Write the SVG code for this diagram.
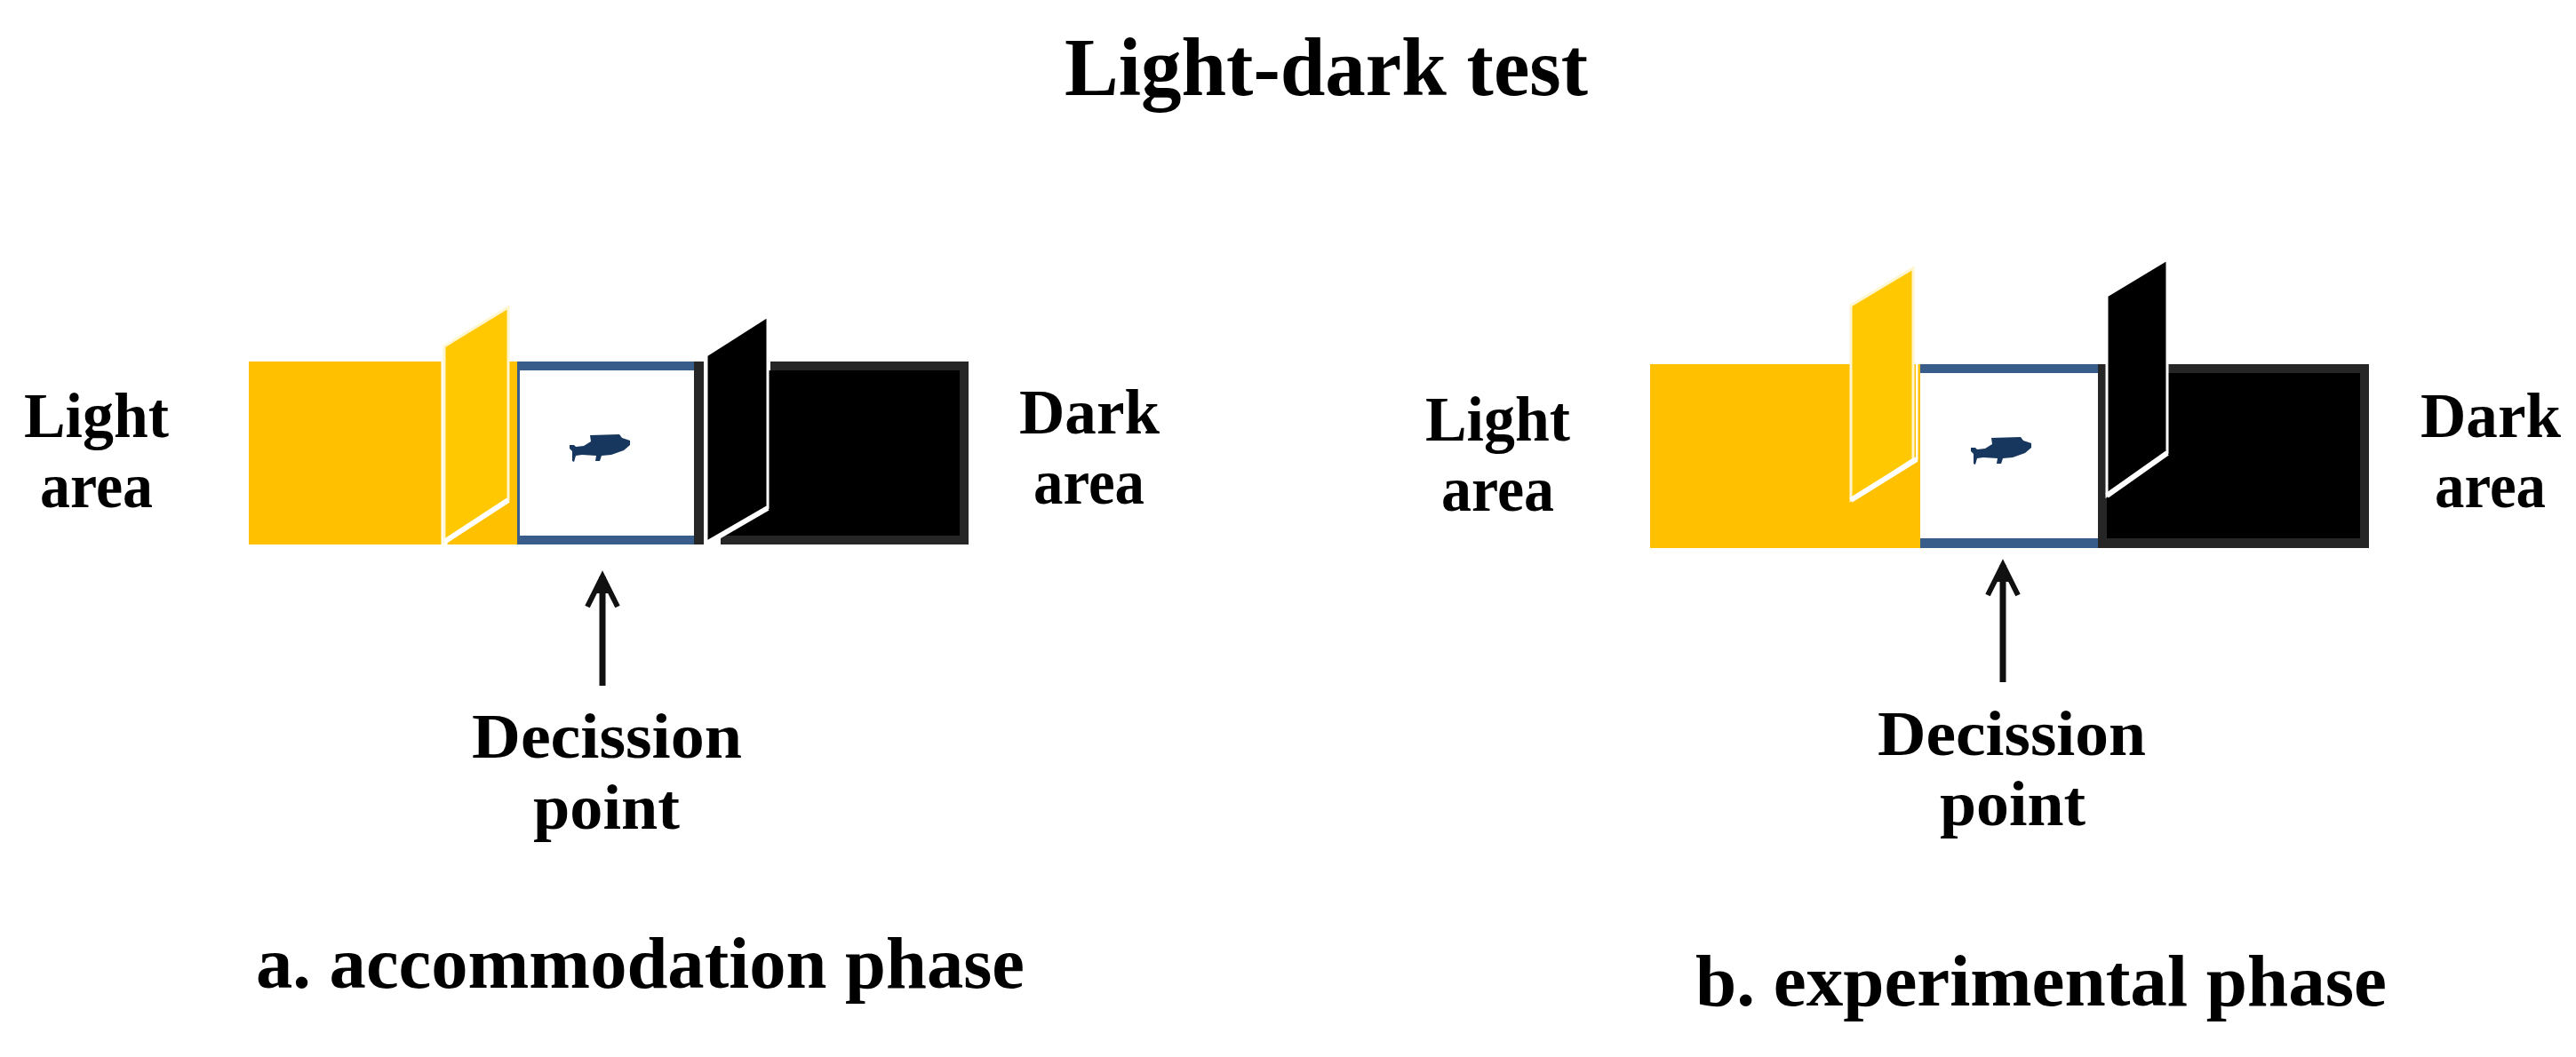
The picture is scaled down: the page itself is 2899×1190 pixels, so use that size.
<svg xmlns="http://www.w3.org/2000/svg" width="2899" height="1190" viewBox="0 0 2899 1190">
<style>
text{font-family:"Liberation Serif","Times New Roman",serif;font-weight:700;fill:#000}
.t{font-size:93px}.l{font-size:71px}.p{font-size:82px}
.y{fill:#FFC000}.b{fill:#385D8A}.d{fill:#262626}.k{fill:#000}.w{fill:#fff}
.dy{fill:#FFC800;stroke:#FFF6D0;stroke-width:3}.dk{fill:#000;stroke:#fff;stroke-width:3}
.e{stroke:#fff;stroke-width:6;fill:none}
.c{stroke:#111;stroke-width:7;fill:none}
</style>
<defs>
<marker id="head" markerUnits="userSpaceOnUse" markerWidth="50" markerHeight="50" refX="37" refY="22" orient="auto"><path d="M3 5 L37 22 L3 39" fill="none" stroke="#111" stroke-width="6"/><path d="M37 22 L18 14 V30Z" fill="#111"/></marker>
<path id="fish" fill="#17375E" d="M641 501 L646 501 L648 503 L657 502 L665 497 L664 490 L697 489 L700 493 L709 496 L709 501 L702 507 L688 512 L677 513 L675 519 L670 519 L671 513 L655 512 L648 513 L646 520 L644 519 L644 508 L641 505Z"/>
</defs>
<rect width="2899" height="1190" fill="#fff"/>
<text class="t" x="1198" y="107" textLength="589" lengthAdjust="spacingAndGlyphs">Light-dark test</text>
<g id="panel-a">
<g id="a-light-area"><rect class="y" x="280" y="407" width="302" height="206"/></g>
<g id="a-decision-box"><rect class="b" x="582" y="407" width="199" height="206"/><rect class="w" x="585" y="417" width="196" height="186"/><use href="#fish"/></g>
<g id="a-dark-area"><rect class="d" x="781" y="407" width="309" height="206"/><rect class="k" x="792" y="417" width="288" height="186"/></g>
<g id="a-light-door"><path class="w" d="M496.500 407h7v206h-7z"/><path class="dy" d="M500 390 L572 346 V563 L500 610Z"/><path class="e" d="M500 610 L572 563"/></g>
<g id="a-dark-door"><path class="w" d="M792 407h3v206h-3z"/><path class="w" d="M792 603h19v10h-19z"/><path class="w" d="M840 407h27v10h-27z"/><path class="dk" d="M795 400 L864 356 V572 L795 612Z"/><path class="e" d="M795 612 L864 572"/></g>
<text class="l" x="27" y="492" textLength="163" lengthAdjust="spacingAndGlyphs">Light</text>
<text class="l" x="45" y="571" textLength="127" lengthAdjust="spacingAndGlyphs">area</text>
<text class="l" x="1147" y="488" textLength="158" lengthAdjust="spacingAndGlyphs">Dark</text>
<text class="l" x="1163" y="567" textLength="125" lengthAdjust="spacingAndGlyphs">area</text>
<text class="l" x="531" y="853" textLength="304" lengthAdjust="spacingAndGlyphs">Decission</text>
<text class="l" x="600" y="933" textLength="165" lengthAdjust="spacingAndGlyphs">point</text>
<text class="p" x="288" y="1112" textLength="865" lengthAdjust="spacingAndGlyphs">a. accommodation phase</text>
</g>
<g id="panel-b">
<g id="b-light-area"><rect class="y" x="1857" y="410" width="304" height="207"/></g>
<g id="b-decision-box"><rect class="b" x="2161" y="410" width="200" height="207"/><rect class="w" x="2161" y="420" width="200" height="186"/><use href="#fish" x="1577" y="3"/></g>
<g id="b-dark-area"><rect class="d" x="2361" y="410" width="305" height="207"/><rect class="k" x="2371" y="420" width="285" height="186"/></g>
<g id="b-light-door"><path class="w" d="M2156 410h2.500v108h-2.500z"/><path class="dy" d="M2083 344 L2153 302 V517 L2083 563Z"/><path class="e" d="M2083 563 L2157 517"/></g>
<g id="b-dark-door"><path class="dk" d="M2371 333 L2439 292 V510 L2371 558Z"/><path class="e" d="M2371 558 L2439 510"/></g>
<text class="l" x="1604" y="496" textLength="163" lengthAdjust="spacingAndGlyphs">Light</text>
<text class="l" x="1622" y="575" textLength="127" lengthAdjust="spacingAndGlyphs">area</text>
<text class="l" x="2724" y="492" textLength="158" lengthAdjust="spacingAndGlyphs">Dark</text>
<text class="l" x="2740" y="571" textLength="125" lengthAdjust="spacingAndGlyphs">area</text>
<text class="l" x="2113" y="850" textLength="302" lengthAdjust="spacingAndGlyphs">Decission</text>
<text class="l" x="2183" y="929" textLength="164" lengthAdjust="spacingAndGlyphs">point</text>
<text class="p" x="1908" y="1132" textLength="778" lengthAdjust="spacingAndGlyphs">b. experimental phase</text>
</g>
<g id="connectors">
<line class="c" x1="678" y1="772" x2="678" y2="649" marker-end="url(#head)"/>
<line class="c" x1="2254" y1="768" x2="2254" y2="636" marker-end="url(#head)"/>
</g>
</svg>
